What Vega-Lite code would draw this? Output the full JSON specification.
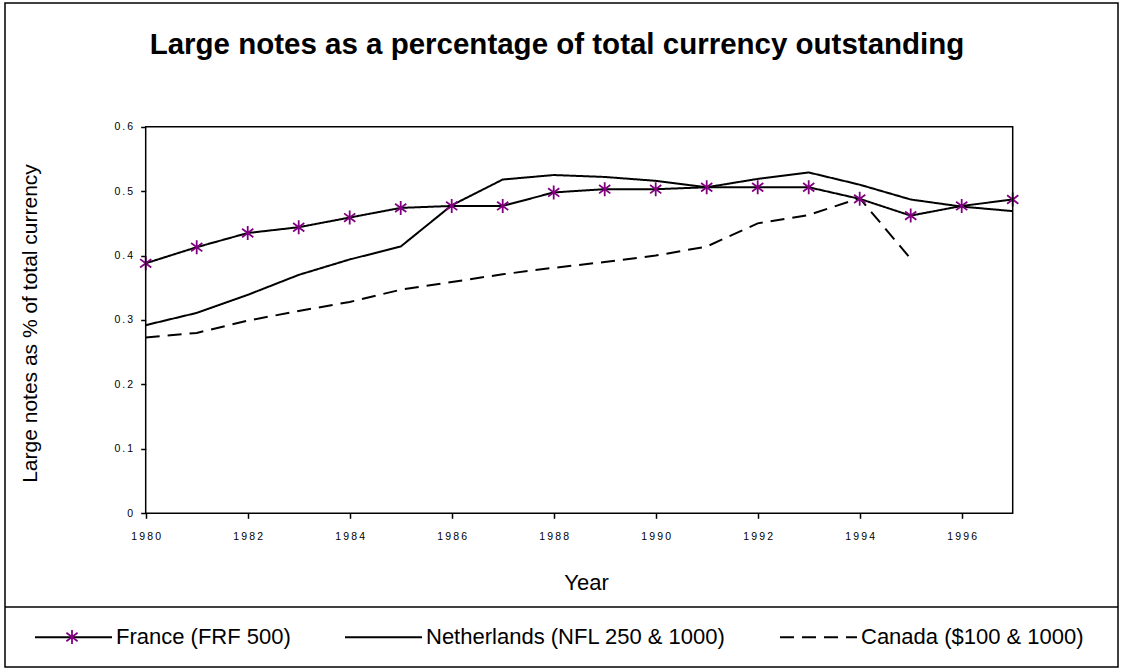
{
  "$schema": "https://vega.github.io/schema/vega-lite/v6.json",
  "width": 1113,
  "height": 664,
  "autosize": {"type": "none"},
  "padding": {"left": 5, "top": 3, "right": 3, "bottom": 2},
  "background": "white",
  "title": {
    "text": "Large notes as a percentage of total currency outstanding",
    "font": "Liberation Sans",
    "fontSize": 29.5,
    "fontWeight": "bold",
    "color": "black",
    "anchor": "middle",
    "baseline": "alphabetic",
    "offset": -80,
    "dx": -4.5
  },
  "data": {
    "values": [
      {"year": 1980, "series": "France (FRF 500)", "value": 0.388},
      {"year": 1981, "series": "France (FRF 500)", "value": 0.413},
      {"year": 1982, "series": "France (FRF 500)", "value": 0.435},
      {"year": 1983, "series": "France (FRF 500)", "value": 0.444},
      {"year": 1984, "series": "France (FRF 500)", "value": 0.459},
      {"year": 1985, "series": "France (FRF 500)", "value": 0.474},
      {"year": 1986, "series": "France (FRF 500)", "value": 0.477},
      {"year": 1987, "series": "France (FRF 500)", "value": 0.477},
      {"year": 1988, "series": "France (FRF 500)", "value": 0.498},
      {"year": 1989, "series": "France (FRF 500)", "value": 0.503},
      {"year": 1990, "series": "France (FRF 500)", "value": 0.503},
      {"year": 1991, "series": "France (FRF 500)", "value": 0.506},
      {"year": 1992, "series": "France (FRF 500)", "value": 0.506},
      {"year": 1993, "series": "France (FRF 500)", "value": 0.506},
      {"year": 1994, "series": "France (FRF 500)", "value": 0.488},
      {"year": 1995, "series": "France (FRF 500)", "value": 0.462},
      {"year": 1996, "series": "France (FRF 500)", "value": 0.477},
      {"year": 1997, "series": "France (FRF 500)", "value": 0.487},
      {"year": 1980, "series": "Netherlands (NFL 250 & 1000)", "value": 0.292},
      {"year": 1981, "series": "Netherlands (NFL 250 & 1000)", "value": 0.311},
      {"year": 1982, "series": "Netherlands (NFL 250 & 1000)", "value": 0.339},
      {"year": 1983, "series": "Netherlands (NFL 250 & 1000)", "value": 0.370},
      {"year": 1984, "series": "Netherlands (NFL 250 & 1000)", "value": 0.394},
      {"year": 1985, "series": "Netherlands (NFL 250 & 1000)", "value": 0.414},
      {"year": 1986, "series": "Netherlands (NFL 250 & 1000)", "value": 0.478},
      {"year": 1987, "series": "Netherlands (NFL 250 & 1000)", "value": 0.518},
      {"year": 1988, "series": "Netherlands (NFL 250 & 1000)", "value": 0.525},
      {"year": 1989, "series": "Netherlands (NFL 250 & 1000)", "value": 0.522},
      {"year": 1990, "series": "Netherlands (NFL 250 & 1000)", "value": 0.516},
      {"year": 1991, "series": "Netherlands (NFL 250 & 1000)", "value": 0.506},
      {"year": 1992, "series": "Netherlands (NFL 250 & 1000)", "value": 0.519},
      {"year": 1993, "series": "Netherlands (NFL 250 & 1000)", "value": 0.529},
      {"year": 1994, "series": "Netherlands (NFL 250 & 1000)", "value": 0.510},
      {"year": 1995, "series": "Netherlands (NFL 250 & 1000)", "value": 0.487},
      {"year": 1996, "series": "Netherlands (NFL 250 & 1000)", "value": 0.476},
      {"year": 1997, "series": "Netherlands (NFL 250 & 1000)", "value": 0.469},
      {"year": 1980, "series": "Canada ($100 & 1000)", "value": 0.273},
      {"year": 1981, "series": "Canada ($100 & 1000)", "value": 0.280},
      {"year": 1982, "series": "Canada ($100 & 1000)", "value": 0.299},
      {"year": 1983, "series": "Canada ($100 & 1000)", "value": 0.314},
      {"year": 1984, "series": "Canada ($100 & 1000)", "value": 0.328},
      {"year": 1985, "series": "Canada ($100 & 1000)", "value": 0.347},
      {"year": 1986, "series": "Canada ($100 & 1000)", "value": 0.359},
      {"year": 1987, "series": "Canada ($100 & 1000)", "value": 0.371},
      {"year": 1988, "series": "Canada ($100 & 1000)", "value": 0.381},
      {"year": 1989, "series": "Canada ($100 & 1000)", "value": 0.390},
      {"year": 1990, "series": "Canada ($100 & 1000)", "value": 0.400},
      {"year": 1991, "series": "Canada ($100 & 1000)", "value": 0.414},
      {"year": 1992, "series": "Canada ($100 & 1000)", "value": 0.450},
      {"year": 1993, "series": "Canada ($100 & 1000)", "value": 0.463},
      {"year": 1994, "series": "Canada ($100 & 1000)", "value": 0.489},
      {"year": 1995, "series": "Canada ($100 & 1000)", "value": 0.395}
    ]
  },
  "layer": [
    {
      "mark": {"type": "line", "color": "black", "strokeWidth": 2},
      "encoding": {
        "x": {
          "field": "year",
          "type": "quantitative",
          "scale": {"domain": [1977.2412, 1999.0647], "nice": false, "zero": false},
          "axis": {
            "title": "Year",
            "values": [1980, 1982, 1984, 1986, 1988, 1990, 1992, 1994, 1996],
            "format": "d",
            "labelExpr": "join(split(datum.label, ''), '\u2009')",
            "offset": -153.7,
            "domain": false,
            "grid": false,
            "ticks": true,
            "tickSize": 5,
            "tickWidth": 1.5,
            "tickColor": "black",
            "labelFont": "Liberation Sans",
            "labelFontSize": 10.5,
            "labelColor": "black",
            "labelBaseline": "alphabetic",
            "labelPadding": 21,
            "labelFlush": false,
            "labelOverlap": false,
            "titleFont": "Liberation Sans",
            "titleFontSize": 22,
            "titleFontWeight": "normal",
            "titleColor": "black",
            "titleBaseline": "alphabetic",
            "titleAlign": "center",
            "titleX": 581,
            "titleY": 75.7
          }
        },
        "y": {
          "field": "value",
          "type": "quantitative",
          "scale": {"domain": [-0.23854, 0.79198], "nice": false, "zero": false},
          "axis": {
            "title": "Large notes as % of total currency",
            "values": [0, 0.1, 0.2, 0.3, 0.4, 0.5, 0.6],
            "labelExpr": "join(split(format(datum.value, '~g'), ''), '\u2009')",
            "offset": -140.7,
            "domain": false,
            "grid": false,
            "tickSize": 5,
            "tickWidth": 1.5,
            "tickColor": "black",
            "labelFont": "Liberation Sans",
            "labelFontSize": 10.5,
            "labelColor": "black",
            "labelPadding": 8,
            "labelBaseline": "middle",
            "labelFlush": false,
            "labelOverlap": false,
            "titleFont": "Liberation Sans",
            "titleFontSize": 21,
            "titleFontWeight": "normal",
            "titleColor": "black",
            "titleAngle": 270,
            "titleBaseline": "alphabetic",
            "titleAlign": "center",
            "titleX": -109.7,
            "titleY": 320
          }
        },
        "strokeDash": {
          "field": "series",
          "type": "nominal",
          "scale": {
            "domain": ["France (FRF 500)", "Netherlands (NFL 250 & 1000)", "Canada ($100 & 1000)"],
            "range": [[1, 0], [1, 0], [14, 8]]
          },
          "legend": {
            "title": null,
            "orient": "none",
            "legendX": 29,
            "legendY": 594.5,
            "direction": "horizontal",
            "columns": 3,
            "columnPadding": 50,
            "padding": 0,
            "symbolType": "stroke",
            "symbolSize": 5929,
            "symbolStrokeWidth": 2,
            "symbolStrokeColor": "black",
            "labelFont": "Liberation Sans",
            "labelFontSize": 22,
            "labelColor": "black",
            "labelOffset": 3,
            "labelLimit": 500
          }
        }
      }
    },
    {
      "transform": [{"filter": "datum.series === 'France (FRF 500)'"}],
      "mark": {
        "type": "point",
        "filled": false,
        "color": "#800080",
        "strokeWidth": 1.8,
        "size": 196,
        "opacity": 1
      },
      "encoding": {
        "x": {"field": "year", "type": "quantitative"},
        "y": {"field": "value", "type": "quantitative"},
        "shape": {
          "field": "series",
          "type": "nominal",
          "scale": {
            "domain": ["France (FRF 500)"],
            "range": ["M0,-1L0,1M-0.8,-0.6L0.8,0.6M-0.8,0.6L0.8,-0.6"]
          },
          "legend": {
            "title": null,
            "orient": "none",
            "legendX": 59,
            "legendY": 626,
            "padding": 0,
            "symbolSize": 196,
            "symbolStrokeWidth": 1.8,
            "symbolStrokeColor": "#800080",
            "symbolFillColor": "transparent",
            "labelExpr": "''",
            "labelFontSize": 1
          }
        }
      }
    },
    {
      "data": {"values": [{}]},
      "mark": {"type": "rect", "fill": null, "fillOpacity": 0, "stroke": "black", "strokeWidth": 1.5},
      "encoding": {
        "x": {"datum": 1980, "type": "quantitative"},
        "x2": {"datum": 1997},
        "y": {"datum": 0, "type": "quantitative"},
        "y2": {"datum": 0.6}
      }
    },
    {
      "data": {"values": [{}]},
      "mark": {"type": "rule", "color": "black", "strokeWidth": 1.5},
      "encoding": {
        "y": {"datum": -0.14542, "type": "quantitative"}
      }
    }
  ],
  "config": {
    "font": "Liberation Sans",
    "view": {"stroke": "black", "strokeWidth": 1.5}
  }
}
